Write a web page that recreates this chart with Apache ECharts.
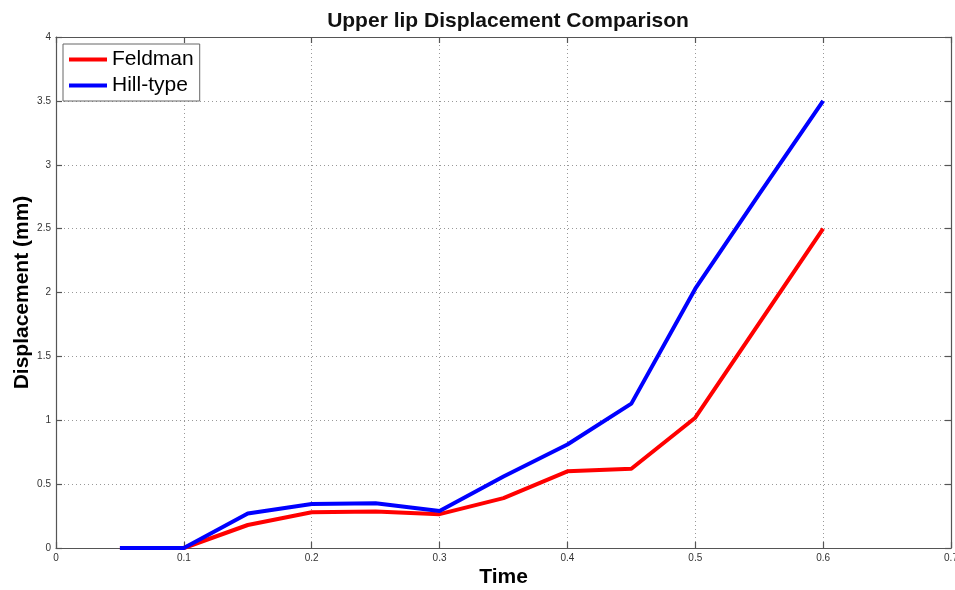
<!DOCTYPE html>
<html>
<head>
<meta charset="utf-8">
<script src="https://cdn.jsdelivr.net/npm/echarts@6/dist/echarts.min.js"></script>
<style>
html,body{margin:0;padding:0;background:#fff;}
#chart{width:955px;height:590px;}
</style>
</head>
<body>
<div id="chart"></div>
<script>
const times = [0.05, 0.1, 0.15, 0.2, 0.25, 0.3, 0.35, 0.4, 0.45, 0.5, 0.55, 0.6];
const feldman = [0, 0, 0.18, 0.28, 0.285, 0.265, 0.39, 0.60, 0.62, 1.02, 1.76, 2.50];
const hillType = [0, 0, 0.27, 0.345, 0.35, 0.29, 0.56, 0.81, 1.13, 2.03, 2.77, 3.50];
const seriesNames = ['Feldman', 'Hill-type'];
const xTicks = [0, 0.1, 0.2, 0.3, 0.4, 0.5, 0.6, 0.7];
const yTicks = [0, 0.5, 1, 1.5, 2, 2.5, 3, 3.5, 4];

const font = 'Liberation Sans, Arial, Helvetica, sans-serif';
const chart = echarts.init(document.getElementById('chart'));
const pairs = (ys) => times.map((t, i) => [t, ys[i]]);
const axisLineStyle = {color: '#555', width: 1.2};
const fmt = v => String(Math.round(v * 100) / 100);

chart.setOption({
  backgroundColor: '#fff',
  animation: false,
  title: {
    text: 'Upper lip Displacement Comparison',
    left: 503, top: 6, textAlign: 'center',
    textStyle: {fontFamily: font, fontSize: 21, fontWeight: 'bold', color: '#111'}
  },
  legend: {
    orient: 'vertical', left: 63, top: 44,
    data: seriesNames,
    icon: 'rect', itemWidth: 38, itemHeight: 4, itemGap: 5,
    padding: [5, 6, 5, 6],
    backgroundColor: '#fff', borderColor: '#666', borderWidth: 1,
    textStyle: {fontFamily: font, fontSize: 21, color: '#000'}
  },
  grid: {left: 56, right: 4, top: 37, bottom: 42, outerBoundsMode: 'none', containLabel: false},
  xAxis: [{
    type: 'value', min: 0, max: 0.7, interval: 0.1,
    name: 'Time', nameLocation: 'middle', nameGap: 19, nameMoveOverlap: false,
    nameTextStyle: {fontFamily: font, fontSize: 21, fontWeight: 'bold', color: '#000'},
    axisLine: {show: true, onZero: false, lineStyle: axisLineStyle},
    axisTick: {show: true, inside: true, length: 6, lineStyle: axisLineStyle},
    axisLabel: {fontFamily: font, fontSize: 10, color: '#333', margin: 5, formatter: fmt},
    splitLine: {show: true, lineStyle: {color: '#999', type: [1, 3], width: 1}}
  }, {
    type: 'value', min: 0, max: 0.7, interval: 0.1, position: 'top',
    axisLine: {show: true, onZero: false, lineStyle: axisLineStyle},
    axisTick: {show: true, inside: true, length: 6, lineStyle: axisLineStyle},
    axisLabel: {show: false}, splitLine: {show: false}
  }],
  yAxis: [{
    type: 'value', min: 0, max: 4, interval: 0.5,
    name: 'Displacement (mm)', nameLocation: 'middle', nameGap: 23, nameMoveOverlap: false,
    nameTextStyle: {fontFamily: font, fontSize: 21, fontWeight: 'bold', color: '#000'},
    axisLine: {show: true, onZero: false, lineStyle: axisLineStyle},
    axisTick: {show: true, inside: true, length: 6, lineStyle: axisLineStyle},
    axisLabel: {fontFamily: font, fontSize: 10, color: '#333', margin: 5, formatter: fmt},
    splitLine: {show: true, lineStyle: {color: '#999', type: [1, 3], width: 1}}
  }, {
    type: 'value', min: 0, max: 4, interval: 0.5, position: 'right',
    axisLine: {show: true, onZero: false, lineStyle: axisLineStyle},
    axisTick: {show: true, inside: true, length: 6, lineStyle: axisLineStyle},
    axisLabel: {show: false}, splitLine: {show: false}
  }],
  series: [{
    name: seriesNames[0], type: 'line', data: pairs(feldman),
    symbol: 'none', color: '#ff0000',
    lineStyle: {width: 4, color: '#ff0000'}, z: 2
  }, {
    name: seriesNames[1], type: 'line', data: pairs(hillType),
    symbol: 'none', color: '#0000ff',
    lineStyle: {width: 4, color: '#0000ff'}, z: 3
  }]
});
</script>
</body>
</html>
